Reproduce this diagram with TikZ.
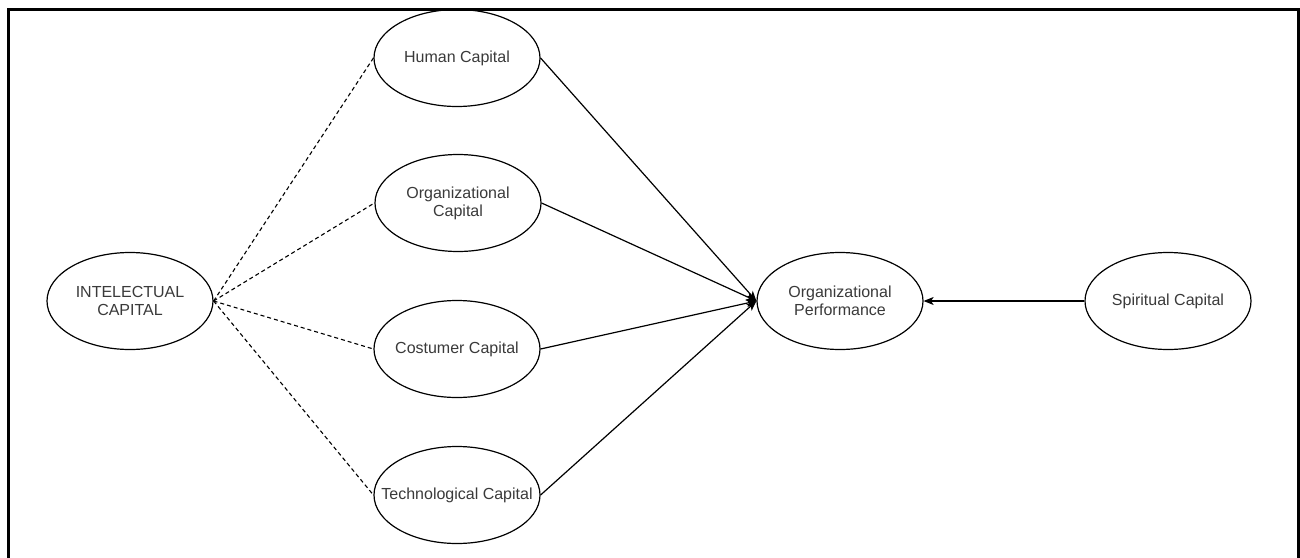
\documentclass[tikz,border=0pt]{standalone}
\usepackage{fontspec}
\setmainfont{Liberation Sans}
\usetikzlibrary{shapes.geometric,arrows.meta}
\definecolor{txt}{HTML}{3A3A3A}
\tikzset{
  oval/.style={ellipse, draw=black, line width=1.2pt, minimum width=166pt, minimum height=97pt,
    inner xsep=-19pt, inner ysep=0pt, align=center, text=txt, font=\fontsize{16}{18}\selectfont},
  dashlink/.style={draw=black, line width=1.1pt, dash pattern=on 4pt off 3pt},
  link/.style={draw=black, line width=1.2pt, -{Stealth[length=10pt,width=8pt,inset=2.5pt]}},
  frame/.style={draw=black, line width=3pt}
}
\begin{document}
\begin{tikzpicture}[x=1pt,y=-1pt]
\useasboundingbox (0,0) rectangle (1300,557);
\clip (0,0) rectangle (1300,557);
\fill[white] (0,0) rectangle (1300,557);
\draw[frame] (8.5,9.5) rectangle (1298,600);
\node[oval] (ic) at (130,301) {INTELECTUAL\\CAPITAL};
\node[oval] (hc) at (457,58) {Human Capital};
\node[oval] (oc) at (458,203) {Organizational\\Capital};
\node[oval] (cc) at (457,349) {Costumer Capital};
\node[oval] (tc) at (457,495) {Technological Capital};
\node[oval] (op) at (840,301) {Organizational\\Performance};
\node[oval] (sc) at (1168,301) {Spiritual Capital};
\draw[dashlink] (ic.east) -- (hc.west);
\draw[dashlink] (ic.east) -- (oc.west);
\draw[dashlink] (ic.east) -- (cc.west);
\draw[dashlink] (ic.east) -- (tc.west);
\draw[link] (hc.east) -- (op.west);
\draw[link] (oc.east) -- (op.west);
\draw[link] (cc.east) -- (op.west);
\draw[link] (tc.east) -- (op.west);
\draw[link] (sc.west) -- (op.east);
\end{tikzpicture}
\end{document}
